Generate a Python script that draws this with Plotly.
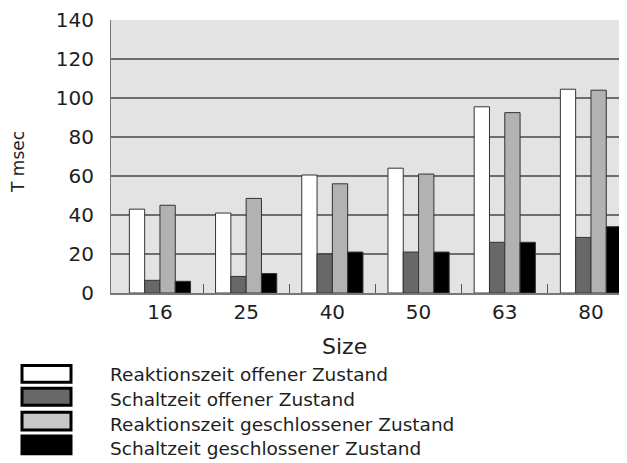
import plotly.graph_objects as go

categories = ["16", "25", "40", "50", "63", "80"]
series_names = [
    "Reaktionszeit offener Zustand",
    "Schaltzeit offener Zustand",
    "Reaktionszeit geschlossener Zustand",
    "Schaltzeit geschlossener Zustand",
]
reaktion_offen = [43, 41, 60.5, 64, 95.5, 104.5]
schalt_offen = [6.5, 8.5, 20, 21, 26, 28.5]
reaktion_geschl = [45, 48.5, 56, 61, 92.5, 104]
schalt_geschl = [6, 10, 21, 21, 26, 34]
y_ticks = [0, 20, 40, 60, 80, 100, 120, 140]

bar_colors = ["#ffffff", "#686868", "#b2b2b2", "#000000"]
swatch_colors = ["#ffffff", "#686868", "#c8c8c8", "#000000"]
series_values = [reaktion_offen, schalt_offen, reaktion_geschl, schalt_geschl]

# page is drawn with the browser's 8px body margin
OFF = 8
W, H = 627 - OFF, 463 - OFF
# plot area in page pixels: x 111..627, y 18..293
L, R, T, B = 111 - OFF, 0, 18 - OFF, 463 - 293
PW, PH = W - L - R, H - T - B
FONT = "DejaVu Sans, Liberation Sans, Arial, sans-serif"
TXT = "#1e1e1e"


def px(x):
    return (x - OFF - L) / PW


def py(y):
    return (H - B - (y - OFF)) / PH


xs = list(range(len(categories)))

fig = go.Figure()
for name, vals, col in zip(series_names, series_values, bar_colors):
    fig.add_trace(go.Bar(
        x=xs, y=vals, name=name,
        marker=dict(color=col, line=dict(color="#333333", width=1)),
        showlegend=False,
    ))

fig.update_layout(
    width=W, height=H,
    margin=dict(l=L, r=R, t=T, b=B, pad=0),
    paper_bgcolor="white",
    plot_bgcolor="#e3e3e3",
    barmode="group",
    bargap=0.29,
    bargroupgap=0,
    font=dict(family=FONT, color=TXT),
    xaxis=dict(
        range=[-0.568, 5.418],
        tickmode="array", tickvals=xs, ticktext=categories,
        ticks="", showgrid=False, zeroline=False,
        showline=True, linecolor="#777777", linewidth=1.5,
        tickfont=dict(size=20, color=TXT, family=FONT),
        ticklabelstandoff=0,
        minor=dict(tickmode="array", tickvals=[i + 0.5 for i in xs[:-1]],
                   ticks="inside", ticklen=9, tickwidth=1, tickcolor="#555555",
                   showgrid=False),
    ),
    yaxis=dict(
        range=[0, 140], tickmode="array", tickvals=y_ticks,
        showgrid=True, gridcolor="#6e6e6e", gridwidth=1.5,
        zeroline=False, showline=True, linecolor="#777777", linewidth=1,
        ticks="", tickfont=dict(size=20, color=TXT, family=FONT),
        ticklabelstandoff=12, ticklabeloverflow="allow",
    ),
)

# axis titles
fig.add_annotation(text="Size", xref="paper", yref="paper",
                   x=px(344), y=py(347), xanchor="center", yanchor="middle",
                   showarrow=False, font=dict(size=22, color=TXT, family=FONT))
fig.add_annotation(text="T msec", xref="paper", yref="paper",
                   x=px(18), y=py(161), xanchor="center", yanchor="middle",
                   textangle=-90, showarrow=False,
                   font=dict(size=17, color=TXT, family=FONT))

# custom legend
sw_top = [366, 389, 413, 437]
sw_bot = [383, 406, 431, 455]
txt_y = [375, 400, 425, 450]
for name, col, t, b, ty in zip(series_names, swatch_colors, sw_top, sw_bot, txt_y):
    fig.add_shape(type="rect", xref="paper", yref="paper",
                  x0=px(22), x1=px(71), y0=py(b), y1=py(t),
                  fillcolor=col, line=dict(color="#000000", width=3))
    fig.add_annotation(text=name, xref="paper", yref="paper",
                       x=px(108), y=py(ty), xanchor="left", yanchor="middle",
                       showarrow=False, font=dict(size=18.5, color=TXT, family=FONT))

fig.write_html("out.html")
